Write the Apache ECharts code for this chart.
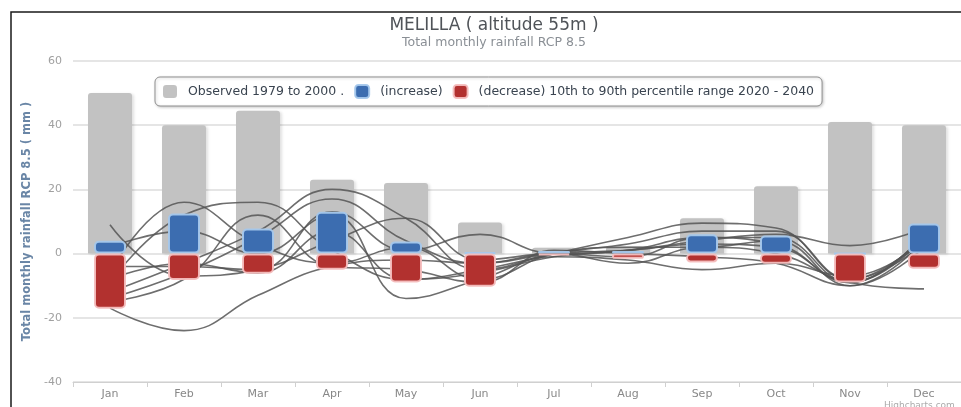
<!DOCTYPE html>
<html>
<head>
<meta charset="utf-8">
<script src="https://cdn.jsdelivr.net/npm/echarts@6/dist/echarts.min.js"></script>
<style>
  html, body { margin: 0; padding: 0; background: #fff; }
  #chart { width: 961px; height: 407px; }
</style>
</head>
<body>
<div id="chart"></div>
<script>
// Months along the category axis
const months = ['Jan', 'Feb', 'Mar', 'Apr', 'May', 'Jun', 'Jul', 'Aug', 'Sep', 'Oct', 'Nov', 'Dec'];

// Observed mean monthly rainfall 1979-2000 (mm)
const observed = [50, 40, 44.5, 23, 22, 9.7, 1.8, 2.2, 11, 21, 41, 40];

// 10th-90th percentile change range 2020-2040 (mm)
const increase = [4, 12.5, 7.8, 13, 3.8, 0.4, 0.8, 0.8, 6, 5.6, 0, 9.4];
const decrease = [-17.2, -8.2, -6.3, -5, -9, -10.3, -0.5, -1.6, -2.8, -3.2, -9, -4.7];

// Individual model projections of monthly change (mm)
const run1  = [-17, -24, -13, -4, -2, -3, 0, 1, 3, 2, -9, 5];
const run2  = [9, -7, -5, 4, 11, -2, 0, -1, 5, 3, -9, 6];
const run3  = [-6, 16, 3, -3, 2, -8, 0, 2, 2, 4, -10, 4];
const run4  = [-9, 12, 16, 1, -8, -6, -1, 1, 5, 5, -9, 6];
const run5  = [-12, -3, 7, 20, 11, -5, 0, 3, 7, 7, -8, 5];
const run6  = [-4, -4, -5, 13, 1, 6, 0, 1, 4, 6, 2.5, 8];
const run7  = [2, 7, 0, 12, -14, -8, -1, -2, -5, -3, -7, 4];
const run8  = [-14, -6, 5, 17, 4, -3, 0, -3, 2, 0, -9, -11];
const run9  = [-8, -3, -6, 7, -8, -5, 0, 5, 9.5, 8, -8, 3];
const run10 = [-15, -8, 12, -4, -5, -9, 1, 0, -1, -3, -10, 2];
const runs = [run1, run2, run3, run4, run5, run6, run7, run8, run9, run10];

// Y axis scale
const yMin = -40, yMax = 60, yStep = 20;

const FONT = 'DejaVu Sans';
const chart = echarts.init(document.getElementById('chart'), null, { renderer: 'canvas' });

const runSeries = runs.map((r, i) => ({
  name: 'run' + (i + 1),
  type: 'line',
  data: r,
  smooth: 0.45,
  symbol: 'none',
  silent: true,
  xAxisIndex: 0,
  z: 3,
  lineStyle: { color: '#555', width: 1.6, opacity: 0.85 }
}));

chart.setOption({
  animation: false,
  backgroundColor: '#fff',
  title: {
    text: 'MELILLA ( altitude 55m )',
    subtext: 'Total monthly rainfall RCP 8.5',
    left: 489,
    top: 12,
    textAlign: 'center',
    itemGap: 2,
    textStyle: { fontFamily: FONT, fontSize: 17, fontWeight: 'normal', color: '#4f5358' },
    subtextStyle: { fontFamily: FONT, fontSize: 12.5, color: '#8a8f95' }
  },
  legend: {
    data: ['Observed 1979 to 2000 .', '(increase)', '(decrease) 10th to 90th percentile range 2020 - 2040'],
    left: 155,
    top: 77,
    padding: [7, 8],
    itemGap: 10,
    itemWidth: 14,
    itemHeight: 13,
    icon: 'roundRect',
    borderColor: '#909090',
    borderWidth: 1,
    borderRadius: 5,
    backgroundColor: '#fff',
    shadowBlur: 3,
    shadowColor: 'rgba(0,0,0,0.2)',
    shadowOffsetX: 1,
    shadowOffsetY: 1,
    textStyle: { fontFamily: FONT, fontSize: 12.5, color: '#3a4450', padding: [0, 0, 0, 6] }
  },
  grid: { left: 73, top: 61, width: 892, height: 321, containLabel: false },
  xAxis: [
    {
      type: 'category',
      data: months,
      axisLine: { onZero: false, lineStyle: { color: '#d0d0d0', width: 1 } },
      axisTick: { show: true, alignWithLabel: false, length: 5, lineStyle: { color: '#d0d0d0' } },
      axisLabel: { fontFamily: FONT, fontSize: 11, color: '#888', margin: 7 },
      splitLine: { show: false }
    },
    {
      type: 'category',
      data: months,
      show: false
    }
  ],
  yAxis: {
    type: 'value',
    min: yMin,
    max: yMax,
    interval: yStep,
    name: 'Total monthly rainfall RCP 8.5 ( mm )',
    nameLocation: 'middle',
    nameRotate: 90,
    nameGap: 40,
    nameTextStyle: { fontFamily: FONT, fontSize: 11.5, fontWeight: 'bold', color: '#6a86a6' },
    axisLine: { show: false },
    axisTick: { show: false },
    axisLabel: { fontFamily: FONT, fontSize: 11, color: '#a0a0a0', margin: 11 },
    splitLine: { lineStyle: { color: '#dcdcdc', width: 1.5 } }
  },
  series: [
    {
      name: 'Observed 1979 to 2000 .',
      type: 'bar',
      data: observed,
      xAxisIndex: 0,
      barWidth: 44,
      z: 2,
      itemStyle: {
        color: '#c2c2c2',
        borderRadius: [3, 3, 0, 0],
        shadowBlur: 3,
        shadowOffsetX: 2,
        shadowOffsetY: 1,
        shadowColor: 'rgba(0,0,0,0.12)'
      }
    },
    ...runSeries,
    {
      name: '(increase)',
      type: 'bar',
      data: increase,
      xAxisIndex: 1,
      stack: 'range',
      barWidth: 32,
      z: 4,
      itemStyle: {
        color: '#3c6db0',
        borderColor: 'rgba(165,200,236,0.95)',
        borderWidth: 2,
        borderRadius: 4
      }
    },
    {
      name: '(decrease) 10th to 90th percentile range 2020 - 2040',
      type: 'bar',
      data: decrease,
      xAxisIndex: 1,
      stack: 'range',
      barWidth: 32,
      z: 4,
      itemStyle: {
        color: '#b2312f',
        borderColor: 'rgba(244,190,190,0.95)',
        borderWidth: 2,
        borderRadius: 4
      }
    }
  ],
  graphic: [
    {
      type: 'rect',
      shape: { x: 11, y: 12, width: 1000, height: 500 },
      style: { fill: 'none', stroke: '#1a1a1a', lineWidth: 1.5 },
      silent: true,
      z: 10
    },
    {
      type: 'text',
      x: 884,
      y: 401,
      style: { text: 'Highcharts.com', fontFamily: FONT, fontSize: 9, fill: '#aaa' },
      silent: true
    }
  ]
});
</script>
</body>
</html>
